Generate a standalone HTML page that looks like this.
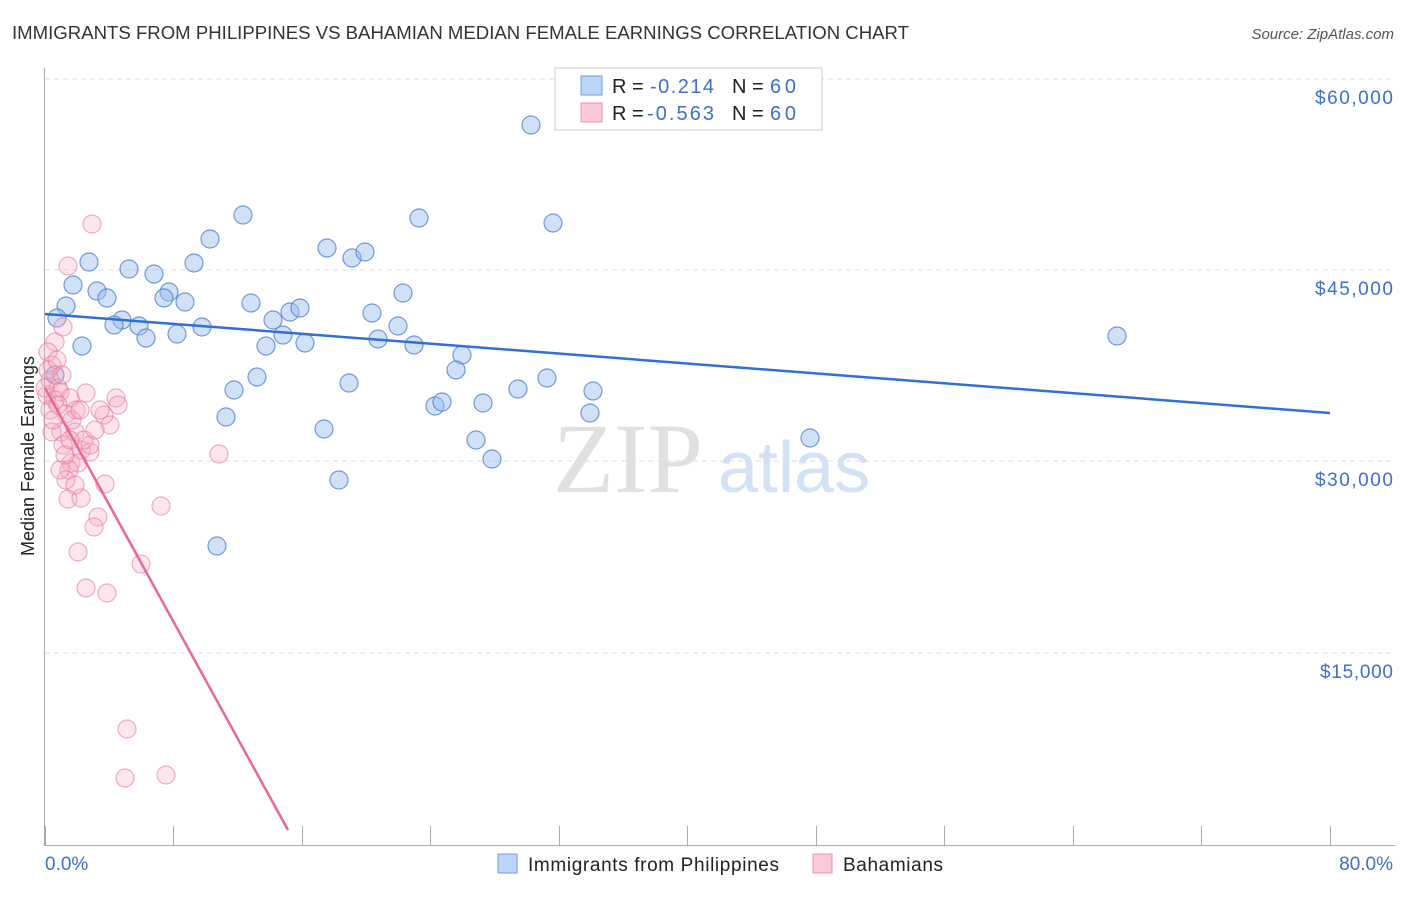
<!DOCTYPE html>
<html><head><meta charset="utf-8"><style>
body{margin:0;background:#fff;}
svg text{font-family:"Liberation Sans",sans-serif;}
</style></head><body>
<svg id="s" width="1406" height="892" xmlns="http://www.w3.org/2000/svg">
<text x="12" y="39" font-size="18" fill="#333" textLength="897" lengthAdjust="spacingAndGlyphs">IMMIGRANTS FROM PHILIPPINES VS BAHAMIAN MEDIAN FEMALE EARNINGS CORRELATION CHART</text>
<text x="1394" y="39" font-size="15" fill="#555" text-anchor="end" font-style="italic">Source: ZipAtlas.com</text>
<g stroke="#ddd" stroke-dasharray="5,4" stroke-width="1">
<line x1="45" y1="79" x2="1395" y2="79"/><line x1="45" y1="270" x2="1395" y2="270"/>
<line x1="45" y1="461" x2="1395" y2="461"/><line x1="45" y1="653" x2="1395" y2="653"/>
</g>
<line x1="44.5" y1="68" x2="44.5" y2="845" stroke="#aaa"/>
<line x1="44" y1="845.5" x2="1395" y2="845.5" stroke="#aaa"/>
<g stroke="#aaa" id="ticks"></g>
<g font-size="19" fill="#3d6fcc">
<text x="1315" y="104" textLength="78">$60,000</text><text x="1315" y="295" textLength="78">$45,000</text>
<text x="1315" y="486" textLength="78">$30,000</text><text x="1320" y="678" textLength="73">$15,000</text>
</g>
<text x="45" y="870" font-size="19" fill="#3d6fcc">0.0%</text>
<text x="1393" y="870" font-size="19" fill="#3d6fcc" text-anchor="end">80.0%</text>
<text transform="translate(34,456) rotate(-90)" font-size="18" fill="#222" text-anchor="middle">Median Female Earnings</text>
<text x="553" y="492" font-size="100" fill="#e0e0e0" style="font-family:'Liberation Serif',serif">ZIP</text>
<text x="718" y="492" font-size="72" fill="#d3e1f5">atlas</text>
<g id="pts"></g>
<line x1="45" y1="314" x2="1330" y2="413" stroke="#2f6fd6" stroke-width="2.5"/>
<line x1="45" y1="388" x2="288" y2="830" stroke="#e8679a" stroke-width="2.5"/>
<rect x="555" y="68" width="267" height="62" fill="#fff" stroke="#ccc"/>
<rect x="581" y="76" width="21" height="19" fill="#bcd4f5" stroke="#6e9ee0"/>
<rect x="581" y="103" width="21" height="19" fill="#fbc8d8" stroke="#ee8fb0"/>
<g font-size="20">
<text x="612" y="93" fill="#222">R = </text><text x="650" y="93" fill="#3d6fcc" textLength="64">-0.214</text>
<text x="732" y="93" fill="#222">N = </text><text x="770" y="93" fill="#3d6fcc" textLength="26">60</text>
<text x="612" y="120" fill="#222">R = </text><text x="647" y="120" fill="#3d6fcc" textLength="67">-0.563</text>
<text x="732" y="120" fill="#222">N = </text><text x="770" y="120" fill="#3d6fcc" textLength="26">60</text>
</g>
<rect x="498" y="854" width="19" height="19" fill="#bcd4f5" stroke="#6e9ee0"/>
<text x="528" y="871" font-size="19" fill="#222" textLength="251">Immigrants from Philippines</text>
<rect x="813" y="854" width="19" height="19" fill="#fbc8d8" stroke="#ee8fb0"/>
<text x="843" y="871" font-size="19" fill="#222" textLength="100">Bahamians</text>
</svg>
<script>
var ns="http://www.w3.org/2000/svg";
var t=document.getElementById("ticks");
[45,173,302,430,559,687,816,944,1073,1201,1330].forEach(function(x){var l=document.createElementNS(ns,"line");l.setAttribute("x1",x+.5);l.setAttribute("x2",x+.5);l.setAttribute("y1",826);l.setAttribute("y2",845);t.appendChild(l);});
var B=[[531,125],[243,215],[419,218],[553,223],[210,239],[327,248],[352,258],[365,252],[89,262],[129,269],[154,274],[194,263],[73,285],[97,291],[107,298],[66,306],[169,292],[185,302],[164,298],[251,303],[403,293],[57,318],[122,320],[114,325],[139,326],[146,338],[177,334],[202,327],[273,320],[290,312],[300,308],[283,335],[266,346],[305,343],[372,313],[398,326],[378,339],[414,345],[82,346],[462,355],[456,370],[234,390],[257,377],[349,383],[518,389],[547,378],[593,391],[590,413],[435,406],[442,402],[483,403],[226,417],[324,429],[476,440],[492,459],[810,438],[339,480],[217,546],[1117,336],[55,375]];
var P=[[92,224],[68,266],[63,327],[55,342],[48,352],[52,365],[50,380],[58,388],[47,395],[60,392],[86,393],[70,398],[76,410],[116,398],[118,405],[104,415],[66,414],[61,432],[52,432],[75,432],[63,445],[81,450],[90,452],[71,463],[78,463],[69,470],[219,454],[66,480],[105,484],[68,499],[81,498],[161,506],[98,517],[94,527],[78,552],[141,564],[86,588],[107,593],[127,729],[125,778],[166,775],[48,370],[55,400],[72,420],[84,440],[57,360],[50,410],[65,455],[100,410],[110,425],[75,485],[90,445],[62,375],[53,420],[45,388],[80,410],[95,430],[60,470],[70,440],[58,405]];
var g=document.getElementById("pts");
function add(a,f,s){a.forEach(function(p){var c=document.createElementNS(ns,"circle");c.setAttribute("cx",p[0]);c.setAttribute("cy",p[1]);c.setAttribute("r",9);c.setAttribute("fill",f);c.setAttribute("stroke",s);c.setAttribute("stroke-width",1.2);g.appendChild(c);});}
add(B,"rgba(150,186,236,0.45)","rgba(80,130,210,0.8)");
add(P,"rgba(246,170,196,0.3)","rgba(232,120,158,0.6)");
</script>
</body></html>
